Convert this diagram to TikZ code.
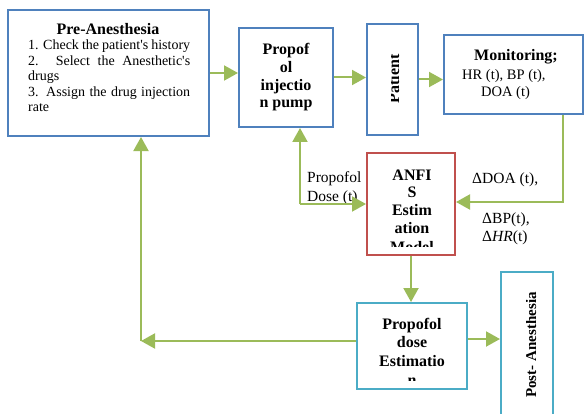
\documentclass[tikz,border=0pt]{standalone}
\usepackage{fontspec}
\setmainfont{Liberation Serif}
\usetikzlibrary{arrows.meta,calc}
\definecolor{boxblue}{HTML}{4F81BD}
\definecolor{boxred}{HTML}{C0504D}
\definecolor{boxaqua}{HTML}{4BACC6}
\definecolor{arrgreen}{HTML}{9BBB59}
\tikzset{
  box/.style={draw, line width=2pt, inner sep=0pt},
  flow/.style={draw=arrgreen, line width=2pt, -{Triangle[length=14pt,width=15pt]}},
  btxt/.style={font=\fontsize{16}{18}\selectfont\bfseries, inner sep=0pt, anchor=base},
  rtxt/.style={font=\fontsize{14}{16}\selectfont, inner sep=0pt, anchor=base west},
  mtxt/.style={font=\fontsize{14.5}{16}\selectfont, inner sep=0pt, anchor=base west},
  ltxt/.style={font=\fontsize{15.5}{18}\selectfont, inner sep=0pt, anchor=base west},
}
\begin{document}
\begin{tikzpicture}[x=1pt,y=-1pt]
\useasboundingbox (0,0) rectangle (585,414);

% boxes
\node[box, draw=boxblue, minimum width=201pt, minimum height=126pt] (pre) at (108.5,73) {};
\node[box, draw=boxblue, minimum width=94pt, minimum height=99pt] (pump) at (286,77.5) {};
\node[box, draw=boxblue, minimum width=51pt, minimum height=111pt] (patient) at (392.5,79.5) {};
\node[box, draw=boxblue, minimum width=139pt, minimum height=79pt] (mon) at (513.5,74.5) {};
\node[box, draw=boxred, minimum width=88pt, minimum height=102pt] (anfis) at (411,204) {};
\node[box, draw=boxaqua, minimum width=110pt, minimum height=86pt] (est) at (412,346) {};
\node[box, draw=boxaqua, minimum width=52pt, minimum height=150pt] (post) at (527,347) {};

% Pre-Anesthesia text
\node[btxt] (preT) at (108,35) {Pre-Anesthesia};
\node[rtxt] (pre1) at (28,50) {\makebox[162pt][s]{1. Check the patient\textquotesingle s history}};
\node[rtxt] (pre2) at (28,65.5) {\makebox[162pt][s]{2. Select the Anesthetic\textquotesingle s}};
\node[rtxt] (pre3) at (28,81) {drugs};
\node[rtxt] (pre4) at (28,96.5) {\makebox[162pt][s]{3. Assign the drug injection}};
\node[rtxt] (pre5) at (28,112) {rate};

% pump text
\node[btxt] (pumpA) at (286,55) {Propof};
\node[btxt] (pumpB) at (286,72.7) {ol};
\node[btxt] (pumpC) at (286,90.4) {injectio};
\node[btxt] (pumpD) at (286,108) {n pump};

% patient text (clipped)
\begin{scope}
  \clip (391.2,26) rectangle (416,133);
  \node[btxt, rotate=90] (patT) at (399,79) {Patient};
\end{scope}

% monitoring text
\node[btxt] (monT) at (516,61) {Monitoring;};
\node[mtxt] (monA) at (462,80) {HR (t), BP (t),};
\node[mtxt] (monB) at (481,97) {DOA (t)};

% ANFIS text (clipped)
\begin{scope}
  \clip (369,155) rectangle (453,246);
  \node[btxt] (anA) at (412,180) {ANFI};
  \node[btxt] (anB) at (412,197.5) {S};
  \node[btxt] (anC) at (412,215) {Estim};
  \node[btxt] (anD) at (412,233) {ation};
  \node[btxt] (anE) at (412,252.5) {Model};
\end{scope}

% estimation text (clipped)
\begin{scope}
  \clip (359,305) rectangle (465,380);
  \node[btxt] (esA) at (412,329) {Propofol};
  \node[btxt] (esB) at (412,347.5) {dose};
  \node[btxt] (esC) at (412,366.5) {Estimatio};
  \node[btxt] (esD) at (412,385.5) {n};
\end{scope}

% post text (clipped)
\begin{scope}
  \clip (526.5,274) rectangle (551,414);
  \node[btxt, font=\fontsize{15}{18}\selectfont\bfseries, rotate=90] (postT) at (536,345) {Post- Anesthesia};
\end{scope}

% labels
\node[ltxt] (lblA) at (307,182) {Propofol};
\node[ltxt] (lblB) at (307,201) {Dose (t)};
\node[ltxt] (lblC) at (472,183) {ΔDOA (t),};
\node[ltxt] (lblD) at (482,223) {ΔBP(t),};
\node[ltxt] (lblE) at (482,241) {Δ\textit{HR}(t)};

% coordinates
\coordinate (c1) at (563,202);
\coordinate (c3) at (480,339);
\coordinate (c4) at (141,341);
\coordinate (c5) at (300,204);

% connectors
\draw[flow] (pre.east |- 0,73) -- (pump.west |- 0,73);
\draw[flow] (pump.east) -- (pump.east -| patient.west);
\draw[flow] (patient.east) -- (patient.east -| mon.west);
\draw[flow] (c1 |- mon.south) -- (c1) -- (c1 -| anfis.east);
\draw[flow] (anfis.south -| 411,0) -- (est.north -| 411,0);
\draw[flow] (est.east |- c3) -- (post.west |- c3);
\draw[flow] (est.west |- c4) -- (c4);
\draw[flow] (c4) -- (c4 |- pre.south);
\draw[flow] (c5) -- (c5 |- pump.south);
\draw[flow] (c5) -- (c5 -| anfis.west);
\end{tikzpicture}
\end{document}
